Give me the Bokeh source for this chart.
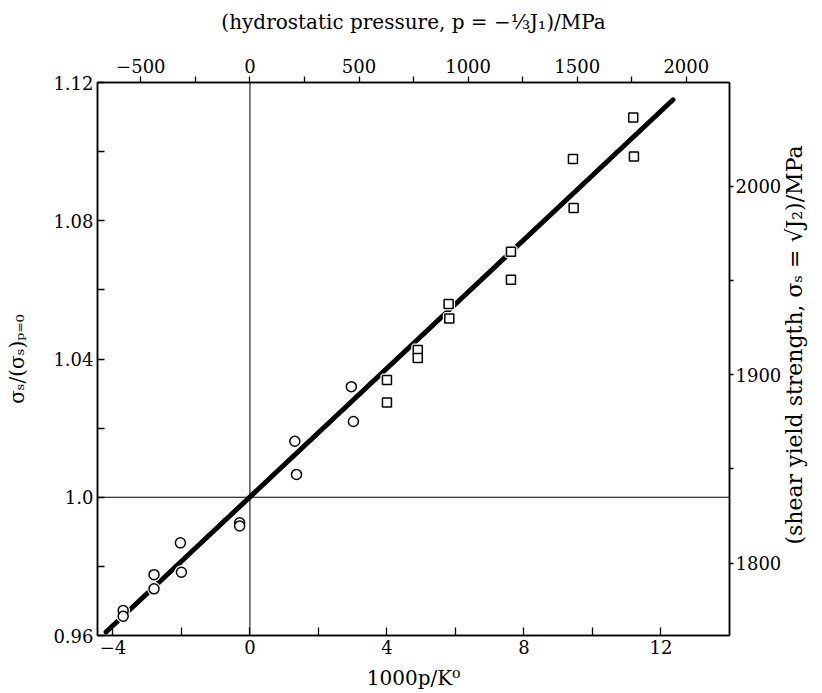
import math
from bokeh.plotting import figure
from bokeh.models import LinearAxis, Range1d, FixedTicker, Span
from bokeh.embed import file_html
from bokeh.resources import INLINE

# ---- data ----
circle_x = [-3.7, -3.7, -2.8, -2.8, -2.03, -2.0, -0.3, -0.3, 1.31, 1.36, 2.96, 3.02]
circle_y = [0.9672, 0.9656, 0.9776, 0.9735, 0.9868, 0.9783, 0.9926, 0.9917,
            1.0162, 1.0066, 1.0320, 1.0219]
square_x = [4.0, 4.0, 4.9, 4.9, 5.8, 5.82, 7.62, 7.62, 9.43, 9.45, 11.19, 11.21]
square_y = [1.0339, 1.0274, 1.0426, 1.0403, 1.0559, 1.0517, 1.0710, 1.0629,
            1.0979, 1.0837, 1.1099, 1.0986]
fit_x = [-4.2, 12.35]
fit_y = [0.961, 1.115]

bottom_ticks = [-4, 0, 4, 8, 12]
bottom_minor = [-2, 2, 6, 10]
left_ticks = [0.96, 1.0, 1.04, 1.08, 1.12]
left_minor = [0.98, 1.02, 1.06, 1.10]
left_labels = ["0.96", "1.0", "1.04", "1.08", "1.12"]
top_ticks = [-500, 0, 500, 1000, 1500, 2000]
top_minor = [-250, 250, 750, 1250, 1750]
right_ticks = [1800, 1900, 2000]
right_minor = [1850, 1950]

K0_GPa = 157.0          # bulk modulus used for the top axis
sigma0 = 1835.0         # (sigma_s) at p = 0, MPa

x_lim = (-4.45, 14.0)
y_lim = (0.96, 1.12)

title_bottom = "1000p/K\u2070"
title_left = "\u03c3\u209b/(\u03c3\u209b)\u209a\u208c\u2080"
title_top = "(hydrostatic pressure, p = \u2212\u2153J\u2081)/MPa"
title_right = "(shear yield strength, \u03c3\u209b = \u221aJ\u2082)/MPa"

FONT = "DejaVu Serif"

p = figure(width=822, height=693, output_backend="svg", toolbar_location=None,
           x_range=Range1d(*x_lim), y_range=Range1d(*y_lim),
           min_border_left=97, min_border_top=82, min_border_right=89,
           min_border_bottom=58)
p.xgrid.visible = False
p.ygrid.visible = False
p.outline_line_color = "black"
p.outline_line_width = 1.5
p.background_fill_color = "white"
p.border_fill_color = "white"

p.extra_x_ranges = {"mpa": Range1d(x_lim[0] * K0_GPa, x_lim[1] * K0_GPa)}
p.extra_y_ranges = {"sig": Range1d(y_lim[0] * sigma0, y_lim[1] * sigma0)}

def style(ax, tin, tout, title_size="20px"):
    ax.axis_line_color = "black"
    ax.axis_line_width = 1.5
    ax.major_tick_line_color = "black"
    ax.minor_tick_line_color = "black"
    ax.major_tick_line_width = 1.3
    ax.minor_tick_line_width = 1.3
    ax.major_tick_in = tin
    ax.major_tick_out = tout
    ax.minor_tick_in = tin
    ax.minor_tick_out = tout
    ax.major_label_text_font = FONT
    ax.major_label_text_font_size = "18px"
    ax.major_label_text_color = "black"
    ax.axis_label_text_font = FONT
    ax.axis_label_text_font_size = title_size
    ax.axis_label_text_font_style = "normal"
    ax.axis_label_text_color = "black"

# bottom axis
xb = p.xaxis[0]
xb.ticker = FixedTicker(ticks=bottom_ticks, minor_ticks=bottom_minor)
xb.axis_label = title_bottom
style(xb, 8, 0)
xb.major_label_standoff = 4
xb.axis_label_standoff = 9

# left axis
yl = p.yaxis[0]
yl.ticker = FixedTicker(ticks=left_ticks, minor_ticks=left_minor)
yl.major_label_overrides = {t: s for t, s in zip(left_ticks, left_labels)}
yl.axis_label = title_left
style(yl, 7, 0)
yl.major_label_standoff = 4
yl.axis_label_standoff = 21

# top axis
xt = LinearAxis(x_range_name="mpa",
                ticker=FixedTicker(ticks=top_ticks, minor_ticks=top_minor),
                axis_label=title_top)
style(xt, 0, 6)
xt.major_label_standoff = 4
xt.axis_label_standoff = 22
p.add_layout(xt, "above")

# right axis: title reads bottom-to-top, starting a little above the frame bottom
pad = "\u00a0" * 13
yr = LinearAxis(y_range_name="sig",
                ticker=FixedTicker(ticks=right_ticks, minor_ticks=right_minor),
                axis_label=pad + title_right)
style(yr, 0, 4, title_size="22px")
yr.axis_label_orientation = math.pi / 2
yr.axis_label_align = "start"
yr.major_label_standoff = 2
yr.axis_label_standoff = 10
p.add_layout(yr, "right")

# reference lines
p.add_layout(Span(location=0, dimension="height", line_color="black",
                  line_width=1, level="underlay"))
p.add_layout(Span(location=1.0, dimension="width", line_color="black",
                  line_width=1, level="underlay"))

# fitted line
p.line(fit_x, fit_y, line_color="black", line_width=5, line_cap="round")

# white halos to break the line around markers
p.scatter(circle_x, circle_y, marker="circle", size=10, fill_color="white",
          line_color="white", line_width=4)
p.scatter(square_x, square_y, marker="square", size=9, fill_color="white",
          line_color="white", line_width=4)

# markers
p.scatter(circle_x, circle_y, marker="circle", size=10, fill_color="white",
          line_color="black", line_width=1.5)
p.scatter(square_x, square_y, marker="square", size=9, fill_color="white",
          line_color="black", line_width=1.5)

open("out.html", "w").write(file_html(p, INLINE))
